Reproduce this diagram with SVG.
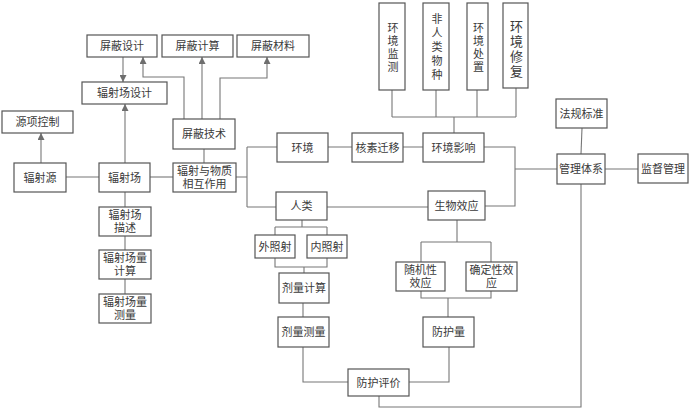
<svg xmlns="http://www.w3.org/2000/svg" width="690" height="409" viewBox="0 0 690 409">
<defs>
<marker id="arr" viewBox="0 0 10 10" refX="10" refY="5" markerWidth="7" markerHeight="7" markerUnits="userSpaceOnUse" orient="auto">
<path d="M0,0 L10,5 L0,10 z" fill="#6e6e6e"/>
</marker>
<style>
.b{fill:#fff;stroke:#555;stroke-width:1.2}
.t{font-family:"Liberation Sans","Noto Sans CJK SC",sans-serif;font-size:11px;fill:#3a3a3a;text-anchor:middle;dominant-baseline:central}
.v{writing-mode:vertical-rl;text-orientation:upright;letter-spacing:2px}
.c{fill:none;stroke:#777;stroke-width:1.1}
.a{marker-end:url(#arr)}
</style>
</defs>
<rect width="690" height="409" fill="#fff"/>
<g id="connectors">
<path class="c a" d="M123,57 V82"/>
<path class="c a" d="M41,163 V133"/>
<path class="c a" d="M125,163 V104"/>
<path class="c a" d="M184,119 V77 H143 V57"/>
<path class="c a" d="M202,119 V57"/>
<path class="c a" d="M220,119 V78 H267 V57"/>
<path class="c" d="M204,149 V163"/>
<path class="c" d="M66,177 H99"/>
<path class="c" d="M150,177 H173"/>
<path class="c" d="M125,192 V207 M125,236 V250 M125,279 V294"/>
<path class="c" d="M236,177 H247 M247,147 V207 M247,147 H277 M247,207 H276"/>
<path class="c" d="M328,147 H352 M403,147 H423"/>
<path class="c" d="M392,90 V117 M436,90 V117 M477,90 V117 M516,88 V117 M392,117 H516 M454,117 V133"/>
<path class="c" d="M484,147 H515 V206 H485 M515,169 H557"/>
<path class="c" d="M582,128 L581,154"/>
<path class="c" d="M605,169 H638"/>
<path class="c" d="M581,184 V407 H379 V396"/>
<path class="c" d="M327,207 H428"/>
<path class="c" d="M302,220 V227 M275,227 H327 M275,227 V235 M327,227 V235"/>
<path class="c" d="M275,258 V267 H327 V258 M304,267 V273"/>
<path class="c" d="M303,303 V317"/>
<path class="c" d="M303,347 V382 H348"/>
<path class="c" d="M457,220 V242 M421,242 H491 M421,242 V262 M491,242 V262"/>
<path class="c" d="M421,291 V298 H491 V291 M448,298 V317"/>
<path class="c" d="M449,347 V382 H409"/>
</g>
<g id="n_pbsj"><rect class="b" x="87" y="35" width="70" height="22"/><text class="t" x="122" y="46">屏蔽设计</text></g>
<g id="n_pbjsuan"><rect class="b" x="162" y="35" width="71" height="22"/><text class="t" x="197.5" y="46">屏蔽计算</text></g>
<g id="n_pbcl"><rect class="b" x="237" y="35" width="72" height="22"/><text class="t" x="273" y="46">屏蔽材料</text></g>
<g id="n_fscsj"><rect class="b" x="82" y="82" width="85" height="22"/><text class="t" x="124.5" y="93">辐射场设计</text></g>
<g id="n_yxkz"><rect class="b" x="2" y="111" width="71" height="22"/><text class="t" x="37.5" y="122">源项控制</text></g>
<g id="n_pbjs"><rect class="b" x="173" y="119" width="62" height="30"/><text class="t" x="204" y="134">屏蔽技术</text></g>
<g id="n_fsy"><rect class="b" x="14" y="163" width="52" height="29"/><text class="t" x="40" y="177.5">辐射源</text></g>
<g id="n_fsc"><rect class="b" x="99" y="163" width="51" height="29"/><text class="t" x="124.5" y="177.5">辐射场</text></g>
<g id="n_xhzy"><rect class="b" x="173" y="163" width="63" height="29"/><text class="t"><tspan x="204.5" y="171">辐射与物质</tspan><tspan x="204.5" y="184">相互作用</tspan></text></g>
<g id="n_fscms"><rect class="b" x="99" y="207" width="52" height="29"/><text class="t"><tspan x="125" y="215">辐射场</tspan><tspan x="125" y="228">描述</tspan></text></g>
<g id="n_fscljs"><rect class="b" x="99" y="250" width="52" height="29"/><text class="t"><tspan x="125" y="258">辐射场量</tspan><tspan x="125" y="271">计算</tspan></text></g>
<g id="n_fsclcl"><rect class="b" x="99" y="294" width="52" height="29"/><text class="t"><tspan x="125" y="302">辐射场量</tspan><tspan x="125" y="315">测量</tspan></text></g>
<g id="n_hj"><rect class="b" x="277" y="133" width="51" height="29"/><text class="t" x="302.5" y="147.5">环境</text></g>
<g id="n_hsqy"><rect class="b" x="352" y="133" width="51" height="29"/><text class="t" x="377.5" y="147.5">核素迁移</text></g>
<g id="n_hjyx"><rect class="b" x="423" y="133" width="61" height="29"/><text class="t" x="453.5" y="147.5">环境影响</text></g>
<g id="n_hjjc"><rect class="b" x="379" y="3" width="26" height="87"/><text class="t v" x="392" y="48.5">环境监测</text></g>
<g id="n_frlwz"><rect class="b" x="423" y="3" width="26" height="87"/><text class="t v" x="436" y="48.5" style="letter-spacing:3px">非人类物种</text></g>
<g id="n_hjcz"><rect class="b" x="467" y="3" width="21" height="87"/><text class="t v" x="477.5" y="48.5">环境处置</text></g>
<g id="n_hjxf"><rect class="b" x="503" y="3" width="25" height="85"/><text class="t v" x="515.5" y="49.5" style="font-size:13px">环境修复</text></g>
<g id="n_fgbz"><rect class="b" x="556" y="99" width="51" height="29"/><text class="t" x="581.5" y="113.5">法规标准</text></g>
<g id="n_gltx"><rect class="b" x="557" y="154" width="48" height="30"/><text class="t" x="581" y="169">管理体系</text></g>
<g id="n_jdgl"><rect class="b" x="638" y="154" width="50" height="29"/><text class="t" x="663" y="168.5">监督管理</text></g>
<g id="n_rl"><rect class="b" x="276" y="192" width="51" height="28"/><text class="t" x="301.5" y="206">人类</text></g>
<g id="n_swxy"><rect class="b" x="428" y="191" width="57" height="29"/><text class="t" x="456.5" y="205.5">生物效应</text></g>
<g id="n_wzs"><rect class="b" x="255" y="235" width="40" height="23"/><text class="t" x="275" y="246.5">外照射</text></g>
<g id="n_nzs"><rect class="b" x="307" y="235" width="40" height="23"/><text class="t" x="327" y="246.5">内照射</text></g>
<g id="n_sjxxy"><rect class="b" x="396" y="262" width="49" height="29"/><text class="t"><tspan x="420.5" y="270">随机性</tspan><tspan x="420.5" y="283">效应</tspan></text></g>
<g id="n_qdxxy"><rect class="b" x="466" y="262" width="51" height="29"/><text class="t"><tspan x="491.5" y="270">确定性效</tspan><tspan x="491.5" y="283">应</tspan></text></g>
<g id="n_jljs"><rect class="b" x="279" y="273" width="50" height="30"/><text class="t" x="304" y="288">剂量计算</text></g>
<g id="n_jlcl"><rect class="b" x="278" y="317" width="51" height="30"/><text class="t" x="303.5" y="332">剂量测量</text></g>
<g id="n_fhl"><rect class="b" x="423" y="317" width="51" height="30"/><text class="t" x="448.5" y="332">防护量</text></g>
<g id="n_fhpj"><rect class="b" x="348" y="369" width="61" height="27"/><text class="t" x="378.5" y="382.5">防护评价</text></g>
</svg>
